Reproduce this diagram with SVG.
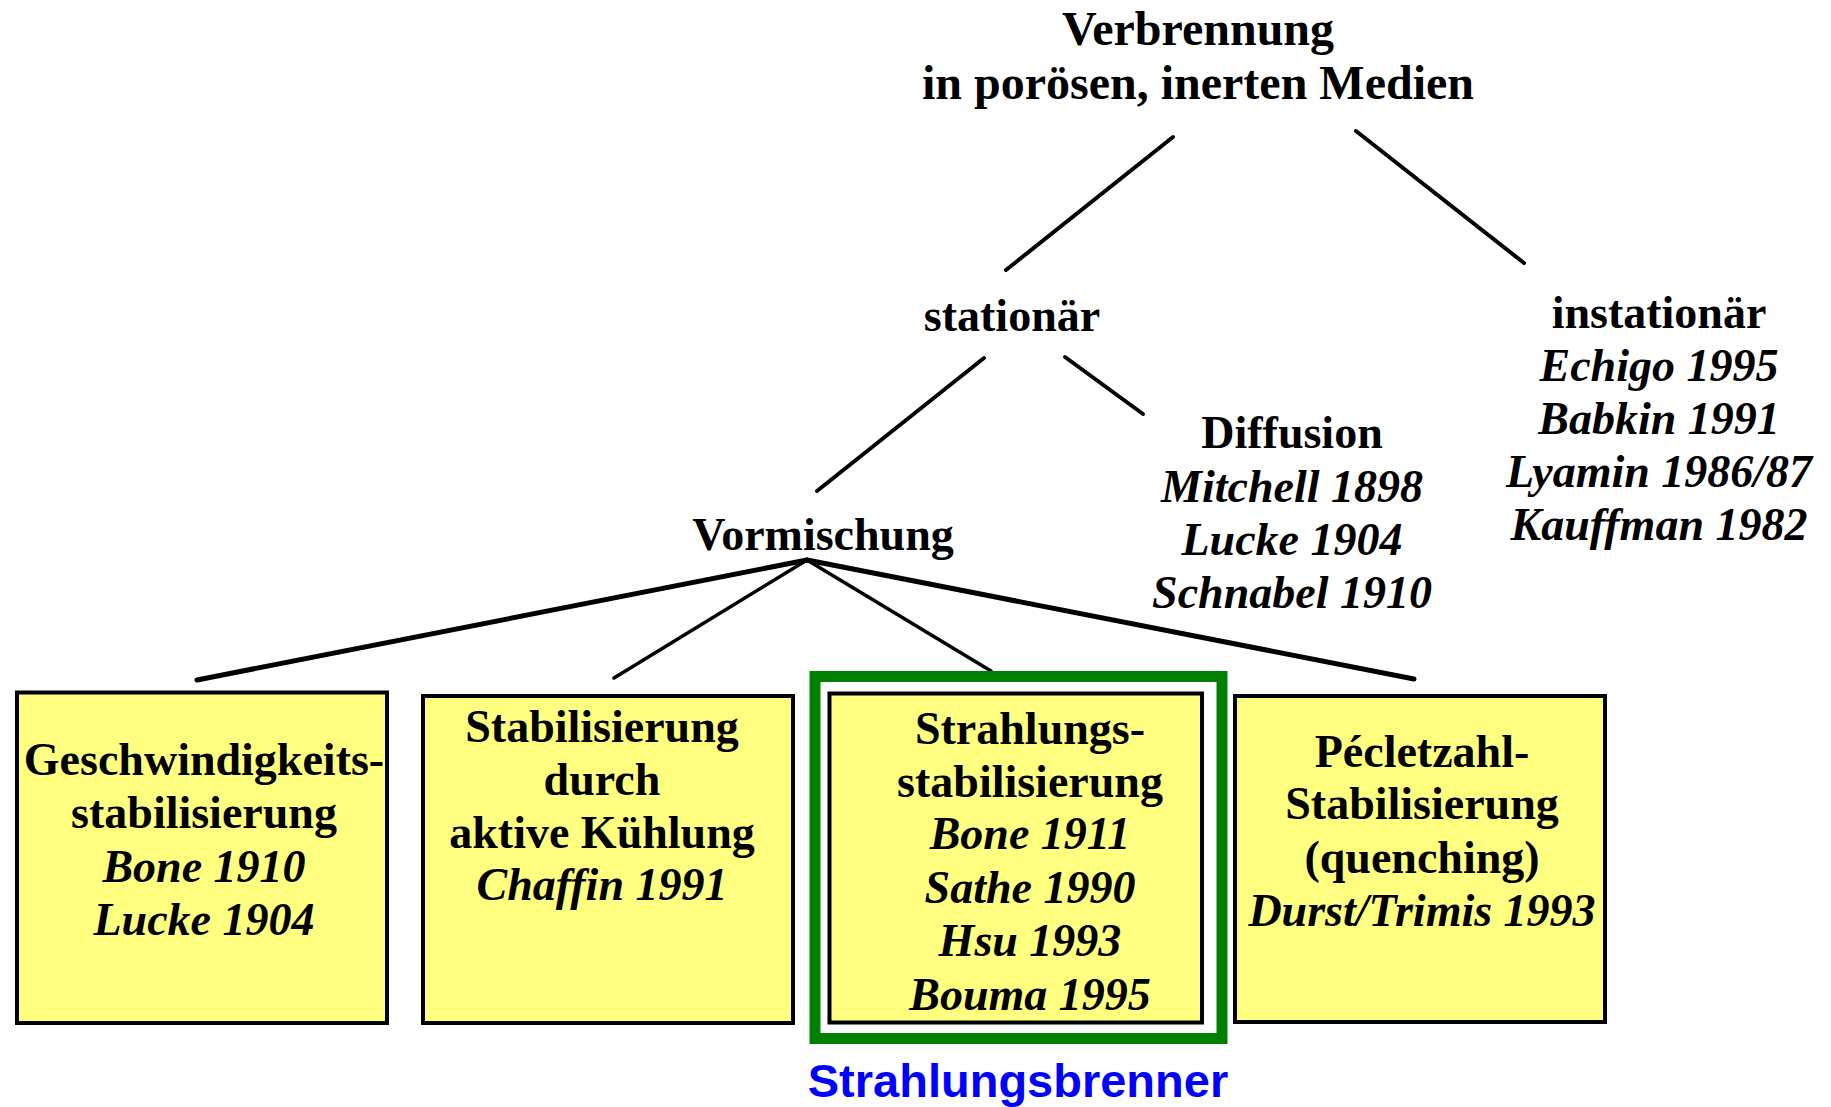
<svg xmlns="http://www.w3.org/2000/svg" width="1831" height="1107" viewBox="0 0 1831 1107">
<style>
text{font-family:"Liberation Serif","Times New Roman",serif;font-weight:bold;font-size:46px;text-anchor:middle;fill:#000}
.t{font-size:48px}
.i{font-style:italic}
.b{fill:#ffff80;stroke:#000;stroke-width:4}
.c line{stroke:#000;stroke-linecap:round}
.blue{font-family:"Liberation Sans",Arial,sans-serif;font-size:47px;fill:#0000ff}
</style>
<rect width="1831" height="1107" fill="#fff"/>
<g class="c" id="connectors">
<line x1="1173" y1="137" x2="1006" y2="270" stroke-width="4"/>
<line x1="1356" y1="131" x2="1524" y2="263" stroke-width="4"/>
<line x1="984" y1="358" x2="817" y2="491" stroke-width="4"/>
<line x1="1065" y1="357" x2="1143" y2="414" stroke-width="4"/>
<line x1="807" y1="560" x2="197" y2="680" stroke-width="5"/>
<line x1="807" y1="560" x2="614" y2="678" stroke-width="3.5"/>
<line x1="807" y1="560" x2="991" y2="671" stroke-width="3.5"/>
<line x1="807" y1="560" x2="1414" y2="679" stroke-width="5"/>
</g>
<g id="root">
<text class="t" x="1198" y="45">Verbrennung</text>
<text class="t" x="1198" y="99">in porösen, inerten Medien</text>
</g>
<g id="stationaer"><text x="1012" y="331">stationär</text></g>
<g id="instationaer">
<text x="1659" y="328">instationär</text>
<text class="i" x="1659" y="381">Echigo 1995</text>
<text class="i" x="1659" y="434">Babkin 1991</text>
<text class="i" x="1659" y="487">Lyamin 1986/87</text>
<text class="i" x="1659" y="540">Kauffman 1982</text>
</g>
<g id="diffusion">
<text x="1292" y="448">Diffusion</text>
<text class="i" x="1292" y="502">Mitchell 1898</text>
<text class="i" x="1292" y="555">Lucke 1904</text>
<text class="i" x="1292" y="608">Schnabel 1910</text>
</g>
<g id="vormischung"><text x="823" y="550">Vormischung</text></g>
<g id="box1">
<rect class="b" x="17" y="692.5" width="370" height="330.5"/>
<text x="204" y="775">Geschwindigkeits-</text>
<text x="204" y="828">stabilisierung</text>
<text class="i" x="204" y="882">Bone 1910</text>
<text class="i" x="204" y="935">Lucke 1904</text>
</g>
<g id="box2">
<rect class="b" x="423" y="696" width="370" height="327"/>
<text x="602" y="742">Stabilisierung</text>
<text x="602" y="795">durch</text>
<text x="602" y="848">aktive Kühlung</text>
<text class="i" x="602" y="900">Chaffin 1991</text>
</g>
<g id="strahlungsbrenner">
<rect x="815" y="676.5" width="407" height="362" fill="none" stroke="#008000" stroke-width="11"/>
<text class="blue" x="1018" y="1097">Strahlungsbrenner</text>
</g>
<g id="box3">
<rect class="b" x="829.5" y="693.5" width="372.5" height="329"/>
<text x="1030" y="744">Strahlungs-</text>
<text x="1030" y="797">stabilisierung</text>
<text class="i" x="1030" y="849">Bone 1911</text>
<text class="i" x="1030" y="903">Sathe 1990</text>
<text class="i" x="1030" y="956">Hsu 1993</text>
<text class="i" x="1030" y="1010">Bouma 1995</text>
</g>
<g id="box4">
<rect class="b" x="1235" y="696" width="370" height="326"/>
<text x="1422" y="767">Pécletzahl-</text>
<text x="1422" y="819">Stabilisierung</text>
<text x="1422" y="873">(quenching)</text>
<text class="i" x="1422" y="926">Durst/Trimis 1993</text>
</g>
</svg>
